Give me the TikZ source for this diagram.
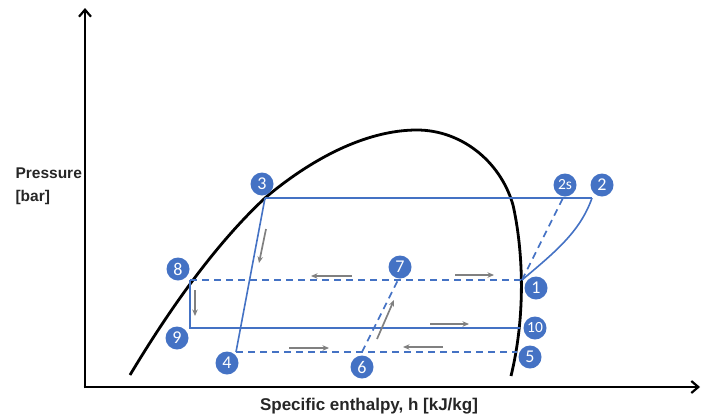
\documentclass[tikz,border=0pt]{standalone}
\usepackage{fontspec}
\setmainfont{Liberation Sans}
\newfontfamily\calib{Carlito}
\usetikzlibrary{arrows.meta}
\definecolor{cblue}{HTML}{4472C4}
\definecolor{cgray}{HTML}{808080}
\tikzset{
  axis/.style={line width=2.8pt, -{Straight Barb[length=7pt,width=12pt,line width=2.2pt]}},
  dome/.style={line width=2.8pt, black},
  cyc/.style={line width=1.6pt, cblue},
  cycd/.style={line width=1.6pt, cblue, dash pattern=on 7pt off 5pt},
  flow/.style={line width=1.7pt, cgray, -{Stealth[length=6.5pt,width=5.5pt]}},
  lbl/.style={circle, fill=cblue, minimum size=23pt, inner sep=0pt, text=white, font=\calib\fontsize{18}{18}\selectfont},
  lbls/.style={lbl, font=\calib\fontsize{15.5}{15.5}\selectfont},
  axlbl/.style={font=\bfseries\fontsize{15.5}{18}\selectfont, text=black!85}
}
\begin{document}
\begin{tikzpicture}[x=1pt,y=-1pt]
\useasboundingbox (0,0) rectangle (701,418);
% axes
\coordinate (Ytop) at (85,8);
\coordinate (Xend) at (700,387);
\draw[axis] (85,388.4) -- (Ytop);
\draw[axis] (83.6,387) -- (Xend);
% dome
\draw[dome] (130,375) .. controls (175,300) and (220,240) .. (265,198)
  .. controls (310,160) and (365,130) .. (417,130)
  .. controls (460,130) and (500,160) .. (513,205)
  .. controls (522,245) and (527,310) .. (511,376);
% state points
\coordinate (p3) at (265,198);
\coordinate (p2s) at (563,198);
\coordinate (p2) at (592,198);
\coordinate (p1) at (522,280);
\coordinate (p8) at (190,280);
\coordinate (p9) at (190,328);
\coordinate (p10) at (520,328);
\coordinate (p4) at (236,352);
\coordinate (p5) at (517,352);
\coordinate (p6) at (362,352);
\coordinate (p7) at (398,280);
% cycle lines
\draw[cyc] (p3) -- (p2);
\draw[cyc] (p2) .. controls (580,232) and (555,252) .. (p1);
\draw[cycd] (p1) -- (p2s);
\draw[cycd] (p8) -- (p1);
\draw[cyc] (p8) -- (p9) -- (p10);
\draw[cyc] (p3) -- (p4);
\draw[cycd] (p4) -- (p5);
\draw[cycd] (p6) -- (p7);
% flow arrows
\draw[flow] (266,229) -- (259,263);
\draw[flow] (195,290) -- (195,316);
\draw[flow] (352,276) -- (311,276);
\draw[flow] (455,275) -- (494,275);
\draw[flow] (289,348) -- (329,348);
\draw[flow] (443,347) -- (403,347);
\draw[flow] (430,324) -- (469,324);
\draw[flow] (377,339) -- (394,300);
% labels
\node[lbl] (l3) at (262,184) {3};
\node[lbl] (l8) at (178,269) {8};
\node[lbl] (l9) at (177,338) {9};
\node[lbl] (l4) at (227,363) {4};
\node[lbl] (l7) at (400,267) {7};
\node[lbl] (l6) at (362,367) {6};
\node[lbls] (l2s) at (565,185) {2s};
\node[lbl] (l2) at (602,185) {2};
\node[lbl] (l1) at (536,288) {1};
\node[lbls] (l10) at (535,328) {10};
\node[lbl] (l5) at (530,357) {5};
% axis labels
\node[axlbl, anchor=west] (yl1) at (12,173) {Pressure};
\node[axlbl, anchor=west] (yl2) at (12,197) {[bar]};
\node[axlbl, font=\bfseries\fontsize{17}{18}\selectfont] (xl) at (369,406) {Specific enthalpy, h [kJ/kg]};
\end{tikzpicture}
\end{document}
